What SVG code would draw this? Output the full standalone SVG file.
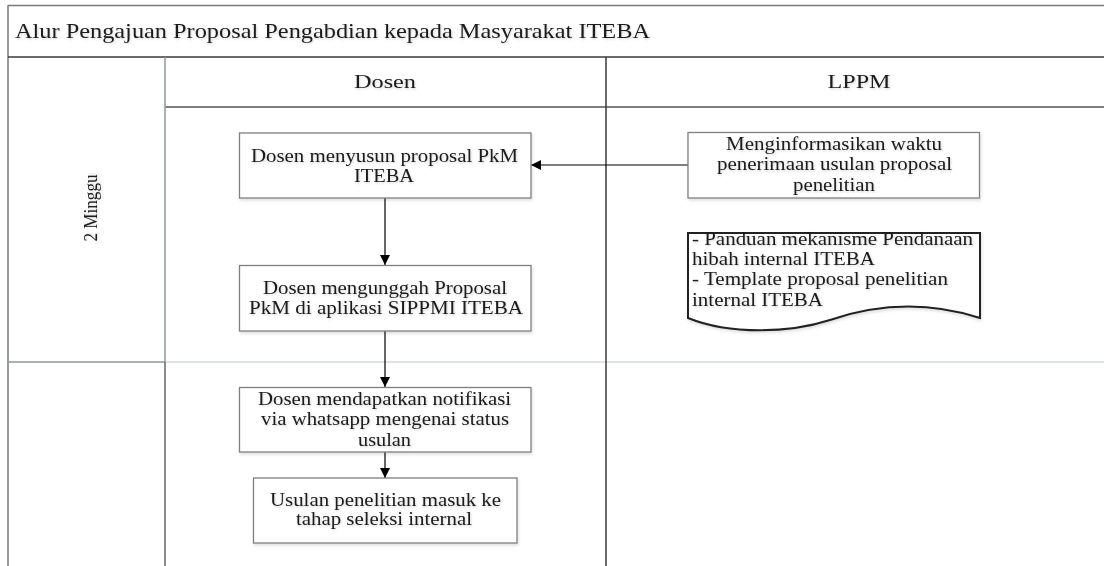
<svg xmlns="http://www.w3.org/2000/svg" width="1104" height="566" viewBox="0 0 1104 566">
<style>
  text { font-family: "Liberation Serif", "Times New Roman", serif; fill: #1a1a1a; }
  .t { font-size: 19px; filter: url(#tsh); }
  .c { text-anchor: middle; }
  .box { fill: #ffffff; stroke: #7f7f7f; stroke-width: 1.3; filter: url(#bsh); }
  .frame { stroke: #7a7a7a; stroke-width: 1.5; fill: none; }
  .conn { stroke: #000; stroke-width: 1.2; fill: none; marker-end: url(#arr); }
</style>
<defs>
  <marker id="arr" viewBox="0 0 10 10" refX="10" refY="5" markerWidth="10" markerHeight="10" markerUnits="userSpaceOnUse" orient="auto">
    <path d="M0,0 L10,5 L0,10 Z" fill="#000"/>
  </marker>
  <filter id="bsh" x="-5%" y="-5%" width="115%" height="125%">
    <feDropShadow dx="1" dy="2" stdDeviation="1.5" flood-color="#000" flood-opacity="0.12"/>
  </filter>
  <filter id="tsh" x="-5%" y="-20%" width="110%" height="160%">
    <feDropShadow dx="0.8" dy="1.2" stdDeviation="0.9" flood-color="#000" flood-opacity="0.18"/>
  </filter>
</defs>
<rect width="1104" height="566" fill="#ffffff"/>

<g id="lanes">
  <line x1="8" y1="5.5" x2="1104" y2="5.5" class="frame"/>
  <line x1="8" y1="5" x2="8" y2="566" class="frame"/>
  <line x1="8" y1="57" x2="1104" y2="57" stroke="#3a3a3a" stroke-width="1.5"/>
  <line x1="165" y1="107" x2="1104" y2="107" stroke="#555" stroke-width="1.3"/>
  <line x1="8" y1="362" x2="165" y2="362" stroke="#8a9a96" stroke-width="1.5"/>
  <line x1="165" y1="362" x2="1104" y2="362" stroke="#d3dbd9" stroke-width="1.5"/>
  <line x1="165" y1="57" x2="165" y2="362" stroke="#8a9a96" stroke-width="1.5"/>
  <line x1="165" y1="362" x2="165" y2="566" stroke="#666" stroke-width="1.5"/>
  <line x1="606" y1="57" x2="606" y2="566" stroke="#3a3a3a" stroke-width="1.5"/>
  <text class="t" x="15" y="38" style="font-size:21px" textLength="635" lengthAdjust="spacingAndGlyphs">Alur Pengajuan Proposal Pengabdian kepada Masyarakat ITEBA</text>
  <text class="t c" x="385" y="88" textLength="62" lengthAdjust="spacingAndGlyphs">Dosen</text>
  <text class="t c" x="859" y="88" textLength="63" lengthAdjust="spacingAndGlyphs">LPPM</text>
  <text class="t c" transform="translate(97,208) rotate(-90)" x="0" y="0" style="font-size:19px" textLength="67" lengthAdjust="spacingAndGlyphs">2 Minggu</text>
</g>

<g id="connectors">
  <line x1="688" y1="165" x2="531" y2="165" class="conn"/>
  <line x1="385" y1="198" x2="385" y2="265" class="conn"/>
  <line x1="385" y1="331" x2="385" y2="387" class="conn"/>
  <line x1="385" y1="452" x2="385" y2="478" class="conn"/>
</g>

<g id="n1">
  <rect class="box" x="239.5" y="133" width="291.5" height="65"/>
  <text class="t c" x="384.5" y="162" textLength="267" lengthAdjust="spacingAndGlyphs">Dosen menyusun proposal PkM</text>
  <text class="t c" x="384" y="182" textLength="60" lengthAdjust="spacingAndGlyphs">ITEBA</text>
</g>

<g id="n2">
  <rect class="box" x="239.5" y="265.5" width="291.5" height="65.5"/>
  <text class="t c" x="385" y="294" textLength="244" lengthAdjust="spacingAndGlyphs">Dosen mengunggah Proposal</text>
  <text class="t c" x="386" y="314" textLength="274" lengthAdjust="spacingAndGlyphs">PkM di aplikasi SIPPMI ITEBA</text>
</g>

<g id="n3">
  <rect class="box" x="239.5" y="387.5" width="291.5" height="64.5"/>
  <text class="t c" x="384.5" y="405" textLength="253" lengthAdjust="spacingAndGlyphs">Dosen mendapatkan notifikasi</text>
  <text class="t c" x="385" y="425" textLength="248" lengthAdjust="spacingAndGlyphs">via whatsapp mengenai status</text>
  <text class="t c" x="384.5" y="446" textLength="53" lengthAdjust="spacingAndGlyphs">usulan</text>
</g>

<g id="n4">
  <rect class="box" x="253.5" y="478" width="263.5" height="65"/>
  <text class="t c" x="385.5" y="506" textLength="231" lengthAdjust="spacingAndGlyphs">Usulan penelitian masuk ke</text>
  <text class="t c" x="384" y="525" textLength="176" lengthAdjust="spacingAndGlyphs">tahap seleksi internal</text>
</g>

<g id="n5">
  <rect class="box" x="688" y="132.5" width="291.5" height="65.5"/>
  <text class="t c" x="834" y="150" textLength="216" lengthAdjust="spacingAndGlyphs">Menginformasikan waktu</text>
  <text class="t c" x="834.5" y="170" textLength="235" lengthAdjust="spacingAndGlyphs">penerimaan usulan proposal</text>
  <text class="t c" x="834" y="191" textLength="82" lengthAdjust="spacingAndGlyphs">penelitian</text>
</g>

<g id="n6">
  <path d="M688,233 H980 V318 C930,302 880,303 830,320 C790,333 730,335 688,318 Z" fill="#ffffff" stroke="#222" stroke-width="2" filter="url(#bsh)"/>
  <text class="t" x="692" y="245" textLength="281" lengthAdjust="spacingAndGlyphs">- Panduan mekanisme Pendanaan</text>
  <text class="t" x="692" y="265" textLength="183" lengthAdjust="spacingAndGlyphs">hibah internal ITEBA</text>
  <text class="t" x="692" y="285" textLength="256" lengthAdjust="spacingAndGlyphs">- Template proposal penelitian</text>
  <text class="t" x="692" y="306" textLength="131" lengthAdjust="spacingAndGlyphs">internal ITEBA</text>
</g>
</svg>
